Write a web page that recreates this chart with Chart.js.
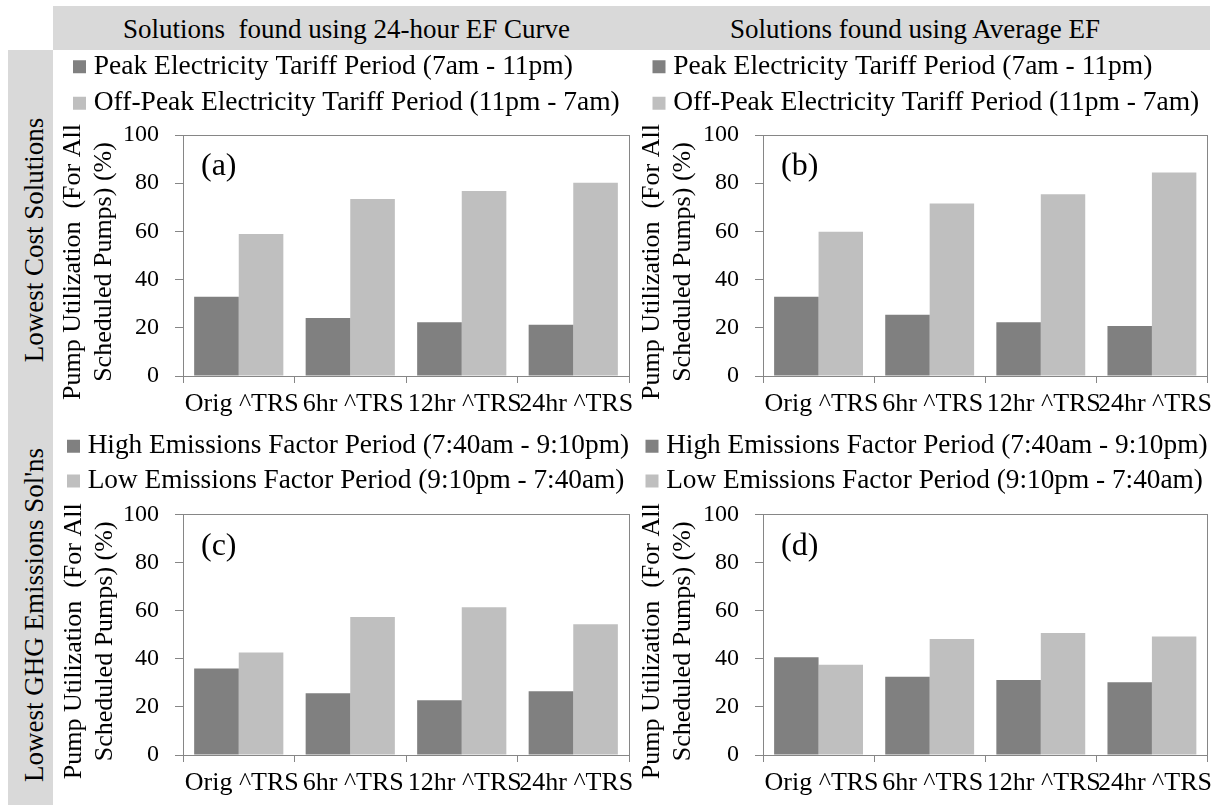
<!DOCTYPE html>
<html>
<head>
<meta charset="utf-8">
<script src="https://cdn.jsdelivr.net/npm/chart.js@4/dist/chart.umd.min.js"></script>
<style>
  html, body { margin: 0; padding: 0; background: #fff; width: 1216px; height: 805px; overflow: hidden;
    font-family: "Liberation Serif", "Times New Roman", serif; }
  .band { position: absolute; background: #d9d9d9; }
  .hdr { position: absolute; font-size: 27px; line-height: 27px; white-space: pre; text-align: center; color: #000; }
  .side { position: absolute; font-size: 27px; line-height: 27px; white-space: pre; color: #000;
    transform: translate(-50%, -50%) rotate(-90deg); }
  canvas { position: absolute; }
</style>
</head>
<body>
<div class="band" style="left:53px;top:6px;width:1157px;height:44px"></div>
<div class="band" style="left:8px;top:50px;width:45px;height:755px"></div>
<div class="hdr" style="left:53px;top:16px;width:587px">Solutions  found using 24-hour EF Curve</div>
<div class="hdr" style="left:640px;top:16px;width:550px">Solutions found using Average EF</div>
<div class="side" style="left:34px;top:240px">Lowest Cost Solutions</div>
<div class="side" style="left:34px;top:615px">Lowest GHG Emissions Sol'ns</div>

<canvas id="pa" width="600" height="377" style="left:50px;top:44px"></canvas>
<canvas id="pb" width="586" height="377" style="left:630px;top:44px"></canvas>
<canvas id="pc" width="600" height="375" style="left:50px;top:425px"></canvas>
<canvas id="pd" width="586" height="375" style="left:630px;top:425px"></canvas>

<script>
// Scenario categories along the x axis
const categories = ['Orig ^TRS', '6hr ^TRS', '12hr ^TRS', '24hr ^TRS'];
// Labelled y ticks (minor ticks every 10 are unlabelled)
const yTickLabels = [0, 20, 40, 60, 80, 100];
const yTitle = ['Pump Utilization  (For All  ', 'Scheduled Pumps) (%)  '];

// Series names
const tariffSeries = ['Peak Electricity Tariff Period (7am - 11pm)', 'Off-Peak Electricity Tariff Period (11pm - 7am)'];
const emissionSeries = ['High Emissions Factor Period (7:40am - 9:10pm)', 'Low Emissions Factor Period (9:10pm - 7:40am)'];

// (a) lowest cost, 24-hour EF curve
const costCurvePeak    = [32.9, 24.1, 22.3, 21.3];
const costCurveOffPeak = [58.9, 73.4, 76.8, 80.2];
// (b) lowest cost, average EF
const costAvgPeak      = [32.9, 25.4, 22.3, 20.7];
const costAvgOffPeak   = [59.9, 71.6, 75.4, 84.4];
// (c) lowest GHG, 24-hour EF curve
const ghgCurveHigh     = [36.0, 25.7, 22.8, 26.5];
const ghgCurveLow      = [42.6, 57.4, 61.5, 54.4];
// (d) lowest GHG, average EF
const ghgAvgHigh       = [40.7, 32.6, 31.2, 30.3];
const ghgAvgLow        = [37.5, 48.3, 50.7, 49.3];

const DARK = '#808080';
const LIGHT = '#bfbfbf';
const AXIS = '#868686';
const SERIF = '"Liberation Serif", "Times New Roman", serif';

Chart.defaults.font.family = SERIF;
Chart.defaults.color = '#000';

// Writes the panel letter in the upper-left corner of the plot area
const panelTag = {
  id: 'panelTag',
  afterDraw(chart, args, opts) {
    const { ctx, chartArea } = chart;
    ctx.save();
    ctx.font = '32px ' + SERIF;
    ctx.fillStyle = '#000';
    ctx.textBaseline = 'middle';
    ctx.textAlign = 'left';
    ctx.fillText(opts.text, chartArea.left + 18, chartArea.top + 32);
    ctx.restore();
  }
};

function makePanel(id, tag, names, darkVals, lightVals, cfg) {
  new Chart(document.getElementById(id), {
    type: 'bar',
    data: {
      labels: categories,
      datasets: [
        { label: names[0], data: darkVals, backgroundColor: DARK, borderWidth: 0,
          categoryPercentage: 0.8, barPercentage: 1.0 },
        { label: names[1], data: lightVals, backgroundColor: LIGHT, borderWidth: 0,
          categoryPercentage: 0.8, barPercentage: 1.0 }
      ]
    },
    options: {
      responsive: false,
      animation: false,
      devicePixelRatio: 1,
      layout: { padding: { left: cfg.padLeft, top: 0, right: cfg.padRight, bottom: 0 } },
      plugins: {
        tooltip: { enabled: false },
        legend: {
          position: 'top',
          align: 'start',
          labels: {
            font: { size: cfg.legendSize, family: SERIF },
            color: '#000',
            usePointStyle: true,
            pointStyle: 'rect',
            boxWidth: 1,
            boxHeight: 13,
            padding: cfg.legendPad
          }
        },
        panelTag: { text: tag }
      },
      scales: {
        x: {
          position: 'bottom',
          grid: { display: true, drawOnChartArea: false, drawTicks: true, tickLength: 7, color: AXIS, offset: true },
          border: { display: true, color: AXIS, width: 1 },
          ticks: { autoSkip: false, maxRotation: 0, minRotation: 0, padding: 6, labelOffset: 3,
                   font: { size: 26, family: SERIF }, color: '#000' },
          afterFit: s => { s.height = 45; }
        },
        xTop: {
          type: 'category',
          position: 'top',
          labels: categories,
          grid: { display: false },
          border: { display: true, color: AXIS, width: 1 },
          ticks: { display: false },
          afterFit: s => { s.height = cfg.spacer; }
        },
        y: {
          position: 'left',
          min: 0, max: 100,
          grid: { display: true, drawOnChartArea: false, drawTicks: true, tickLength: 8, color: AXIS },
          border: { display: true, color: AXIS, width: 1 },
          ticks: {
            stepSize: 10,
            padding: 16,
            font: { size: 24, family: SERIF },
            color: '#000',
            callback: v => (yTickLabels.includes(v) ? String(v) : '')
          },
          title: {
            display: true,
            text: yTitle,
            font: { size: 26, family: SERIF },
            color: '#000',
            padding: { top: cfg.titlePad, bottom: 0 }
          },
          afterFit: s => { s.width = cfg.yWidth; }
        },
        yRight: {
          type: 'linear',
          position: 'right',
          display: true,
          grid: { display: false },
          border: { display: true, color: AXIS, width: 1 },
          ticks: { display: false },
          afterFit: s => { s.width = 0; }
        }
      }
    },
    plugins: [panelTag]
  });
}

makePanel('pa', '(a)', tariffSeries, costCurvePeak, costCurveOffPeak,
  { padLeft: 20, padRight: 21, yWidth: 113, titlePad: -12.6, legendPad: 9, legendSize: 27.5, spacer: 8 });
makePanel('pb', '(b)', tariffSeries, costAvgPeak, costAvgOffPeak,
  { padLeft: 19.5, padRight: 6, yWidth: 113.5, titlePad: -13.1, legendPad: 9, legendSize: 27.5, spacer: 8 });
makePanel('pc', '(c)', emissionSeries, ghgCurveHigh, ghgCurveLow,
  { padLeft: 15.5, padRight: 21, yWidth: 117.5, titlePad: -7.1, legendPad: 7.5, legendSize: 27.3, spacer: 10 });
makePanel('pd', '(d)', emissionSeries, ghgAvgHigh, ghgAvgLow,
  { padLeft: 14, padRight: 6, yWidth: 119, titlePad: -7.6, legendPad: 7.5, legendSize: 27.3, spacer: 10 });
</script>
</body>
</html>
